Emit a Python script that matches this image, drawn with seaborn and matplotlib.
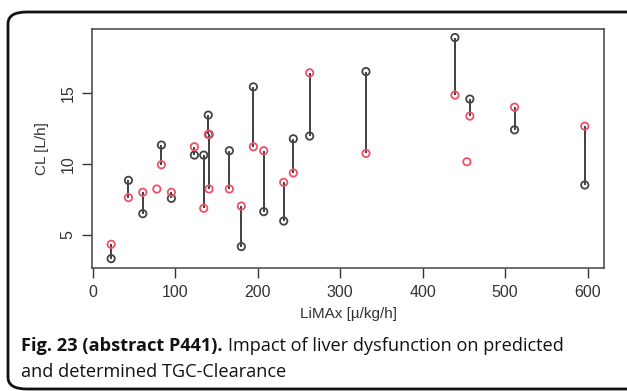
import numpy as np
import pandas as pd
import matplotlib
matplotlib.use("Agg")
import matplotlib.pyplot as plt
from matplotlib.patches import FancyBboxPatch
import seaborn as sns

# LiMAx values (x) and clearances
limax = [22.2, 43.2, 60.6, 77.6, 83.2, 95.3, 123.2, 134.5, 140.0, 141.0, 165.6,
         180.1, 194.7, 207.3, 231.5, 243.2, 263.0, 331.3, 439.2, 453.7, 457.3,
         511.5, 596.7]
cl_determined = [3.31, 8.83, 6.48, np.nan, 11.32, 7.56, 10.61, 10.61, 13.43, 12.07, 10.92,
                 4.16, 15.42, 6.62, 5.96, 11.76, 11.95, 16.5, 18.9, np.nan, 14.56,
                 12.39, 8.5]
cl_predicted = [4.32, 7.61, 7.99, 8.22, 9.93, 7.99, 11.2, 6.86, 12.07, 8.22, 8.22,
                7.02, 11.2, 10.92, 8.69, 9.35, 16.41, 10.73, 14.84, 10.14, 13.36,
                13.99, 12.65]
x_ticks = [0, 100, 200, 300, 400, 500, 600]
y_ticks = [5, 10, 15]

df = pd.DataFrame({"LiMAx": limax, "determined": cl_determined, "predicted": cl_predicted})

sns.set_theme(style="white")
plt.rcParams["font.family"] = ["Liberation Sans", "DejaVu Sans"]

W, H = 627, 391
fig = plt.figure(figsize=(W / 100, H / 100), dpi=100)
ax = fig.add_axes([92 / W, 1 - 268 / H, (604 - 92) / W, (268 - 29) / H])

# connecting segments
pairs = df.dropna()
ax.vlines(pairs["LiMAx"], pairs["determined"], pairs["predicted"],
          colors="#404040", linewidth=1.4, zorder=2)

sns.scatterplot(data=df, x="LiMAx", y="determined", ax=ax, marker="o",
                facecolor="none", edgecolor="#444444", linewidth=1.3, s=28, zorder=3)
sns.scatterplot(data=df, x="LiMAx", y="predicted", ax=ax, marker="o",
                facecolor="none", edgecolor="#ef5068", linewidth=1.3, s=28, zorder=3)

ax.set_xlim(-1, 620)
ax.set_ylim(2.65, 19.5)
ax.set_xticks(x_ticks)
ax.set_yticks(y_ticks)
ax.set_yticklabels([str(v) for v in y_ticks], rotation=90, va="center")
ax.tick_params(axis="both", direction="out", length=7, width=1, color="#333333",
               labelsize=11.5, labelcolor="#333333", pad=5, left=True, bottom=True)
for s in ax.spines.values():
    s.set_color("#444444")
    s.set_linewidth(1.1)
ax.set_xlabel("LiMAx [µ/kg/h]", fontsize=11, color="#333333", labelpad=5)
ax.set_ylabel("CL [L/h]", fontsize=11, color="#333333", labelpad=8)

# rounded frame
frame = FancyBboxPatch((8 / W, 1 - 389 / H), (660 - 8) / W, (389 - 12) / H,
                       boxstyle="round,pad=0,rounding_size=0.03",
                       transform=fig.transFigure, fill=False, edgecolor="#111111",
                       linewidth=2, clip_on=False)
fig.patches.append(frame)

cap_font = ["Open Sans", "DejaVu Sans"]
cap_size = 13.1
fig.text(21 / W, 1 - 346 / H, "Fig. 23 (abstract P441).", fontsize=cap_size,
         fontweight="bold", family=cap_font, va="center", ha="left", color="#111111")
fig.text(21 / W, 1 - 372 / H, "and determined TGC-Clearance", fontsize=cap_size,
         family=cap_font, va="center", ha="left", color="#111111")
# second part of first line, placed after bold part
fig.canvas.draw()
t0 = fig.texts[0]
bb = t0.get_window_extent()
fig.text((bb.x1 + 5) / W, 1 - 346 / H, "Impact of liver dysfunction on predicted",
         fontsize=cap_size, family=cap_font, va="center", ha="left", color="#111111")

fig.savefig("out.png", dpi=100)
